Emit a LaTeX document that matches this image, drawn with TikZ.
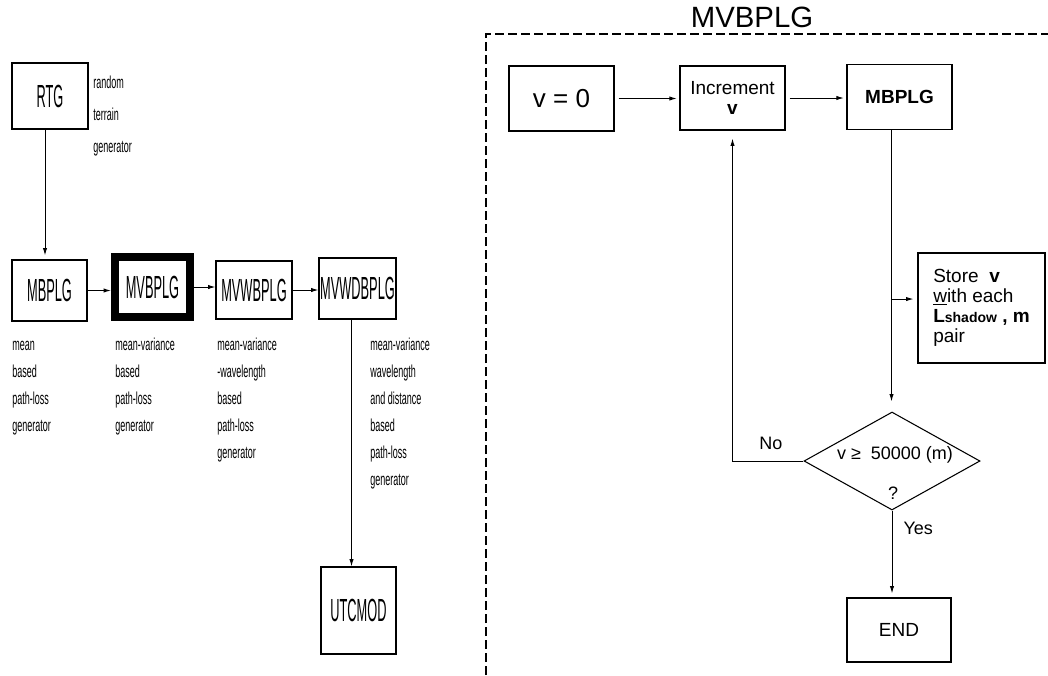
\documentclass[tikz,border=0pt]{standalone}
\usepackage{fontspec}
\setmainfont{Liberation Sans}
\newfontfamily\narrowfont[FakeStretch=0.4]{Liberation Sans}
\newfontfamily\notefont[FakeStretch=0.52]{Liberation Sans}
\usetikzlibrary{arrows.meta, positioning, shapes.geometric, calc}
\tikzset{
    blockbox/.style = {rectangle, draw=black, line width=0.8pt, inner sep=0pt, font=\narrowfont\fontsize{24}{24}\selectfont},
    flowbox/.style = {rectangle, draw=black, line width=0.8pt, inner sep=0pt, font=\fontsize{14.25}{15}\selectfont},
    decision/.style = {diamond, draw=black, line width=0.8pt, inner sep=0pt, minimum width=132pt, minimum height=73.5pt},
    note/.style = {anchor=base west, align=left, inner sep=0pt, font=\notefont\fontsize{13}{20.25}\selectfont},
    arrow/.style = {line width=0.7pt, -{Latex[length=5.5pt,width=3.2pt]}},
    frame/.style = {line width=2.2pt, dash pattern=on 6.75pt off 3pt}
}

\begin{document}
\begin{tikzpicture}[x=0.75pt, y=-0.75pt]
\useasboundingbox (0,0) rectangle (1048,675);

% --- MODEL CHAIN (left) ---
\node (rtg) [blockbox, minimum width=57pt, minimum height=49.5pt] at (50,96) {RTG};
\node (mbplg) [blockbox, minimum width=56.25pt, minimum height=45.75pt] at (49.5,290.5) {MBPLG};
\node (mvbplg) [blockbox, line width=6pt, minimum width=56.25pt, minimum height=45pt] at (152.5,287) {MVBPLG};
\node (mvwbplg) [blockbox, minimum width=57pt, minimum height=43.5pt] at (254,290) {MVWBPLG};
\node (mvwdbplg) [blockbox, minimum width=57.75pt, minimum height=45.75pt] at (357.5,288.5) {MVWDBPLG};
\node (utcmod) [blockbox, minimum width=56.25pt, minimum height=65.25pt] at (358.5,610.5) {UTCMOD};

% descriptions (anchored at the baseline of their last line)
\node (rtgnote) [note, font=\notefont\fontsize{13}{24}\selectfont] at (93,152) {random\\terrain\\generator};
\node (mbnote) [note] at (12,431) {mean\\based\\path-loss\\generator};
\node (mvbnote) [note] at (115,431) {mean-variance\\based\\path-loss\\generator};
\node (mvwbnote) [note] at (217,458) {mean-variance\\-wavelength\\based\\path-loss\\generator};
\node (mvwdbnote) [note] at (370,485) {mean-variance\\wavelength\\and distance\\based\\path-loss\\generator};

% chain connections
\draw [arrow, shorten >=3pt] ($(rtg.south)+(-5,0)$) -- ($(rtg.south |- mbplg.north)+(-5,0)$);
\draw [arrow] (mbplg.east) -- (mbplg.east -| mvbplg.west);
\draw [arrow] (mvbplg.east) -- (mvbplg.east -| mvwbplg.west);
\draw [arrow] (mvwbplg.east) -- (mvwbplg.east -| mvwdbplg.west);
\draw [arrow] ($(mvwdbplg.south)+(-6,0)$) -- ($(mvwdbplg.south |- utcmod.north)+(-6,0)$);

% --- MVBPLG FLOW (right) ---
\draw [frame] (486,675) -- (486,34) -- (1048,34);
\node (title) [font=\fontsize{22}{22}\selectfont] at (752,17) {MVBPLG};

\node (start) [flowbox, minimum width=78.75pt, minimum height=48.75pt, font=\fontsize{19.5}{20}\selectfont] at (561.5,98.5) {v = 0};
\node (incr) [flowbox, minimum width=78.75pt, minimum height=48pt, align=center] at (732.5,98) {Increment\\\textbf{v}};
\node (mbplgr) [flowbox, minimum width=78.75pt, minimum height=48.75pt, font=\bfseries\fontsize{14.25}{15}\selectfont] at (899.5,97) {MBPLG};
\node (store) [flowbox, minimum width=95.25pt, minimum height=82.5pt, align=left] at (981.5,308)
    {Store\ \ \textbf{v}\\\underline{w}ith each\\\textbf{L{\fontsize{10.5}{10}\selectfont shadow} , m}\\pair};
\node (check) [decision] at (892,461) {};
\node (cond) [font=\fontsize{13.5}{14}\selectfont] at (895,455) {v ≥\ \ 50000 (m)};
\node (qmark) [font=\fontsize{13.5}{14}\selectfont] at (893,493) {?};
\node (finish) [flowbox, minimum width=78pt, minimum height=48pt] at (899,630) {END};

\coordinate (trunk) at ($(mbplgr.south)+(-8,0)$);
\coordinate (tap) at ($(trunk)+(0,169)$);

\draw [arrow, shorten <=3pt, shorten >=2pt] (start.east) -- (start.east -| incr.west);
\draw [arrow, shorten <=3pt, shorten >=2pt] (incr.east) -- (incr.east -| mbplgr.west);
\draw [arrow, shorten >=7.5pt] (trunk) -- (trunk |- check.north);
\draw [arrow, shorten >=3pt] (tap) -- (tap -| store.west);
\draw [arrow, shorten >=6pt] (check.west) -| (incr.south)
    node[pos=0.23, above=5pt, font=\fontsize{13.5}{14}\selectfont] {No};
\draw [arrow, shorten >=3pt] (check.south) -- (check.south |- finish.north)
    node[pos=0.2, right=5pt, font=\fontsize{13.5}{14}\selectfont] {Yes};

\end{tikzpicture}
\end{document}
